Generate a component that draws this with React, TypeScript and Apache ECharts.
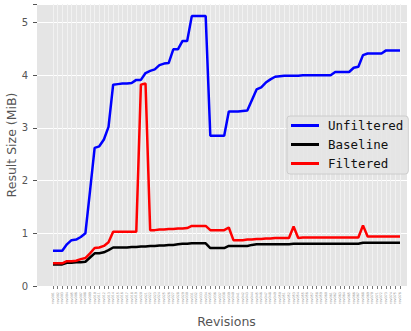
import React, { useEffect, useRef } from "react";
import * as echarts from "echarts";

const revisions = [
  "rev001","rev002","rev003","rev004","rev005","rev006","rev007","rev008","rev009","rev010",
  "rev011","rev012","rev013","rev014","rev015","rev016","rev017","rev018","rev019","rev020",
  "rev021","rev022","rev023","rev024","rev025","rev026","rev027","rev028","rev029","rev030",
  "rev031","rev032","rev033","rev034","rev035","rev036","rev037","rev038","rev039","rev040",
  "rev041","rev042","rev043","rev044","rev045","rev046","rev047","rev048","rev049","rev050",
  "rev051","rev052","rev053","rev054","rev055","rev056","rev057","rev058","rev059","rev060",
  "rev061","rev062","rev063","rev064","rev065","rev066","rev067","rev068","rev069","rev070",
  "rev071","rev072","rev073","rev074","rev075","rev076",
];

const unfiltered = [
  0.67, 0.67, 0.67, 0.79, 0.87, 0.88, 0.93, 1.0, 1.8, 2.62,
  2.65, 2.78, 3.02, 3.82, 3.83, 3.84, 3.84, 3.85, 3.91, 3.91,
  4.04, 4.08, 4.11, 4.19, 4.22, 4.23, 4.49, 4.49, 4.65, 4.65,
  5.12, 5.12, 5.12, 5.12, 2.85, 2.85, 2.85, 2.85, 3.31, 3.31,
  3.31, 3.32, 3.33, 3.53, 3.73, 3.77, 3.86, 3.92, 3.97, 3.98,
  3.99, 3.99, 3.99, 3.99, 4.0, 4.0, 4.0, 4.0, 4.0, 4.0,
  4.0, 4.06, 4.06, 4.06, 4.06, 4.14, 4.16, 4.38, 4.41, 4.41,
  4.41, 4.41, 4.47, 4.47, 4.47, 4.47,
];

const baseline = [
  0.41, 0.41, 0.41, 0.44, 0.44, 0.45, 0.45, 0.46, 0.54, 0.62,
  0.62, 0.64, 0.68, 0.73, 0.73, 0.73, 0.73, 0.74, 0.74, 0.75,
  0.75, 0.76, 0.76, 0.77, 0.77, 0.78, 0.78, 0.79, 0.8, 0.8,
  0.81, 0.81, 0.81, 0.81, 0.72, 0.72, 0.72, 0.72, 0.76, 0.76,
  0.76, 0.76, 0.76, 0.78, 0.79, 0.79, 0.79, 0.79, 0.79, 0.79,
  0.79, 0.79, 0.8, 0.8, 0.8, 0.8, 0.8, 0.8, 0.8, 0.8,
  0.8, 0.8, 0.8, 0.8, 0.8, 0.8, 0.8, 0.82, 0.82, 0.82,
  0.82, 0.82, 0.82, 0.82, 0.82, 0.82,
];

const filtered = [
  0.43, 0.43, 0.43, 0.47, 0.47, 0.48, 0.51, 0.53, 0.62, 0.72,
  0.73, 0.76, 0.83, 1.03, 1.03, 1.03, 1.03, 1.03, 1.03, 3.82,
  3.84, 1.06, 1.06, 1.07, 1.07, 1.08, 1.08, 1.09, 1.09, 1.1,
  1.14, 1.14, 1.14, 1.14, 1.06, 1.06, 1.06, 1.06, 1.11, 0.87,
  0.87, 0.87, 0.88, 0.88, 0.89, 0.89, 0.9, 0.9, 0.91, 0.91,
  0.91, 0.91, 1.13, 0.91, 0.92, 0.92, 0.92, 0.92, 0.92, 0.92,
  0.92, 0.92, 0.92, 0.92, 0.92, 0.92, 0.92, 1.15, 0.94, 0.94,
  0.94, 0.94, 0.94, 0.94, 0.94, 0.94,
];

const yTicks = [0, 1, 2, 3, 4, 5];
const Y_MAX = 5.35;

export default function App() {
  const ref = useRef<HTMLDivElement>(null);

  useEffect(() => {
    if (!ref.current) return;
    const chart = echarts.init(ref.current, null, { renderer: "svg" });
    const font = "DejaVu Sans";
    chart.setOption({
      animation: false,
      backgroundColor: "#ffffff",
      grid: [
        {
          left: 37, top: 4, width: 370, height: 282,
          show: true, backgroundColor: "#E5E5E5", borderWidth: 0,
          containLabel: false, outerBoundsMode: "none",
        },
        {
          left: 53, top: 4, width: 347, height: 282, show: false,
          containLabel: false, outerBoundsMode: "none",
        },
      ],
      xAxis: [
        { type: "value", gridIndex: 0, min: 0, max: 1, show: false },
        {
          type: "category",
          gridIndex: 1,
          data: revisions,
          boundaryGap: false,
          axisLine: { show: false },
          axisTick: { show: true, interval: 0, length: 3, lineStyle: { color: "#777", width: 1 } },
          axisLabel: {
            show: true, interval: 0, rotate: 90, fontSize: 3.4,
            color: "#999999", fontFamily: font, margin: 6,
          },
          splitLine: { show: true, interval: 0, lineStyle: { color: "#F2F2F2", width: 1 } },
          name: "Revisions",
          nameLocation: "middle",
          nameGap: 29,
          nameMoveOverlap: false,
          nameTextStyle: { fontSize: 12.5, color: "#555555", fontFamily: font },
        },
      ],
      yAxis: [
        {
          type: "value",
          gridIndex: 0,
          min: 0,
          max: Y_MAX,
          interval: 1,
          axisLine: { show: false },
          axisTick: { show: true, length: 4, lineStyle: { color: "#555", width: 1 } },
          axisLabel: {
            color: "#555555", fontSize: 10, fontFamily: font, margin: 9,
            formatter: (v: number) => (yTicks.includes(v) ? String(v) : ""),
          },
          splitLine: { show: true, lineStyle: { color: "#FFFFFF", width: 1.2 } },
          name: "Result Size (MiB)",
          nameLocation: "middle",
          nameGap: 19,
          nameMoveOverlap: false,
          nameTextStyle: { fontSize: 12.5, color: "#555555", fontFamily: font },
        },
        { type: "value", gridIndex: 1, min: 0, max: Y_MAX, show: false },
      ],
      legend: {
        orient: "vertical",
        left: 287,
        top: 116,
        padding: [2, 5, 3, 4],
        itemGap: 4,
        itemWidth: 28,
        itemHeight: 3,
        icon: "rect",
        backgroundColor: "rgba(229,229,229,0.85)",
        borderColor: "#CCCCCC",
        borderWidth: 1,
        borderRadius: 3,
        textStyle: {
          fontFamily: "DejaVu Sans Mono",
          fontSize: 12.5,
          color: "#111111",
          padding: [0, 0, 0, 4],
          lineHeight: 15,
        },
        data: ["Unfiltered", "Baseline", "Filtered"],
      },
      series: [
        {
          name: "Unfiltered", type: "line", xAxisIndex: 1, yAxisIndex: 1,
          data: unfiltered, symbol: "none", color: "#0000FF",
          lineStyle: { width: 2.5, color: "#0000FF" },
        },
        {
          name: "Baseline", type: "line", xAxisIndex: 1, yAxisIndex: 1,
          data: baseline, symbol: "none", color: "#000000",
          lineStyle: { width: 2.5, color: "#000000" },
        },
        {
          name: "Filtered", type: "line", xAxisIndex: 1, yAxisIndex: 1,
          data: filtered, symbol: "none", color: "#FF0000",
          lineStyle: { width: 2.5, color: "#FF0000" },
        },
      ],
    });
    return () => chart.dispose();
  }, []);

  return (
    <div
      ref={ref}
      style={{ position: "fixed", left: 0, top: 0, width: 411, height: 331 }}
    />
  );
}
